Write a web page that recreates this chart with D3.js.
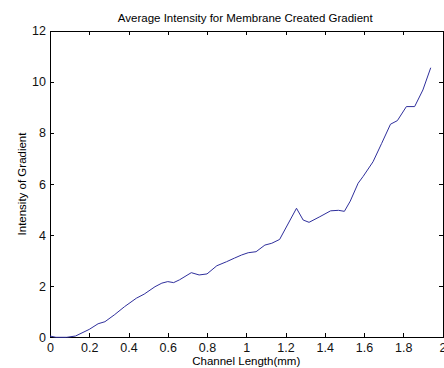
<!DOCTYPE html>
<html>
<head>
<meta charset="utf-8">
<script src="https://cdn.jsdelivr.net/npm/d3@7"></script>
<style>
  body { margin: 0; background: #fff; }
  svg { display: block; font-family: "Liberation Sans", Arial, sans-serif; }
  .axis path, .axis line { stroke: #000; shape-rendering: crispEdges; }
  .axis text { font-size: 12.5px; fill: #111; }
</style>
</head>
<body>
<svg width="444" height="368"></svg>
<script>
// channel length (mm) and intensity
const lengths = [0, 0.03, 0.085, 0.13, 0.2, 0.245, 0.28, 0.33, 0.38, 0.44, 0.48, 0.535,
  0.57, 0.6, 0.63, 0.66, 0.72, 0.76, 0.8, 0.85, 0.9, 0.94, 0.976, 1.01, 1.05, 1.095,
  1.13, 1.17, 1.256, 1.29, 1.32, 1.375, 1.43, 1.47, 1.5, 1.53, 1.57, 1.595, 1.646,
  1.69, 1.735, 1.77, 1.816, 1.858, 1.9, 1.94];
const intensity = [0.05, 0, 0, 0.05, 0.31, 0.53, 0.61, 0.89, 1.2, 1.53, 1.69, 1.98,
  2.12, 2.18, 2.14, 2.25, 2.53, 2.44, 2.48, 2.8, 2.96, 3.1, 3.22, 3.31, 3.35, 3.61,
  3.68, 3.83, 5.05, 4.59, 4.5, 4.72, 4.95, 4.97, 4.93, 5.33, 6.03, 6.29, 6.87,
  7.59, 8.34, 8.48, 9.03, 9.03, 9.68, 10.55];
const xTicks = [0, 0.2, 0.4, 0.6, 0.8, 1, 1.2, 1.4, 1.6, 1.8, 2];
const yTicks = [0, 2, 4, 6, 8, 10, 12];

const svg = d3.select("svg");
const m = { left: 50, right: 442.5, top: 30.7, bottom: 337.3 };

const x = d3.scaleLinear().domain([0, 2]).range([m.left, m.right]);
const y = d3.scaleLinear().domain([0, 12]).range([m.bottom, m.top]);
const fmt = d3.format("~g");

svg.append("g").attr("class", "axis")
    .attr("transform", `translate(0,${m.bottom})`)
    .call(d3.axisBottom(x).tickValues(xTicks).tickFormat(fmt)
        .tickSizeInner(-4).tickSizeOuter(0).tickPadding(6));

svg.append("g").attr("class", "axis")
    .attr("transform", `translate(0,${m.top})`)
    .call(d3.axisTop(x).tickValues(xTicks).tickFormat("")
        .tickSizeInner(-4).tickSizeOuter(0));

svg.append("g").attr("class", "axis")
    .attr("transform", `translate(${m.left},0)`)
    .call(d3.axisLeft(y).tickValues(yTicks).tickFormat(fmt)
        .tickSizeInner(-4).tickSizeOuter(0).tickPadding(4));

svg.append("g").attr("class", "axis")
    .attr("transform", `translate(${m.right},0)`)
    .call(d3.axisRight(y).tickValues(yTicks).tickFormat("")
        .tickSizeInner(-4).tickSizeOuter(0));

const line = d3.line()
    .x((d, i) => x(lengths[i]))
    .y(d => y(d));

svg.append("path")
    .datum(intensity)
    .attr("fill", "none")
    .attr("stroke", "#2f2f9c")
    .attr("stroke-width", 1)
    .attr("d", line);

svg.append("text")
    .attr("x", (m.left + m.right) / 2 - 1)
    .attr("y", 22)
    .attr("text-anchor", "middle")
    .attr("font-size", 11.5)
    .text("Average Intensity for Membrane Created Gradient");

svg.append("text")
    .attr("x", (m.left + m.right) / 2)
    .attr("y", 365)
    .attr("text-anchor", "middle")
    .attr("font-size", 11.5)
    .text("Channel Length(mm)");

svg.append("text")
    .attr("transform", `translate(26,${(m.top + m.bottom) / 2}) rotate(-90)`)
    .attr("text-anchor", "middle")
    .attr("font-size", 11.5)
    .text("Intensity of Gradient");
</script>
</body>
</html>
